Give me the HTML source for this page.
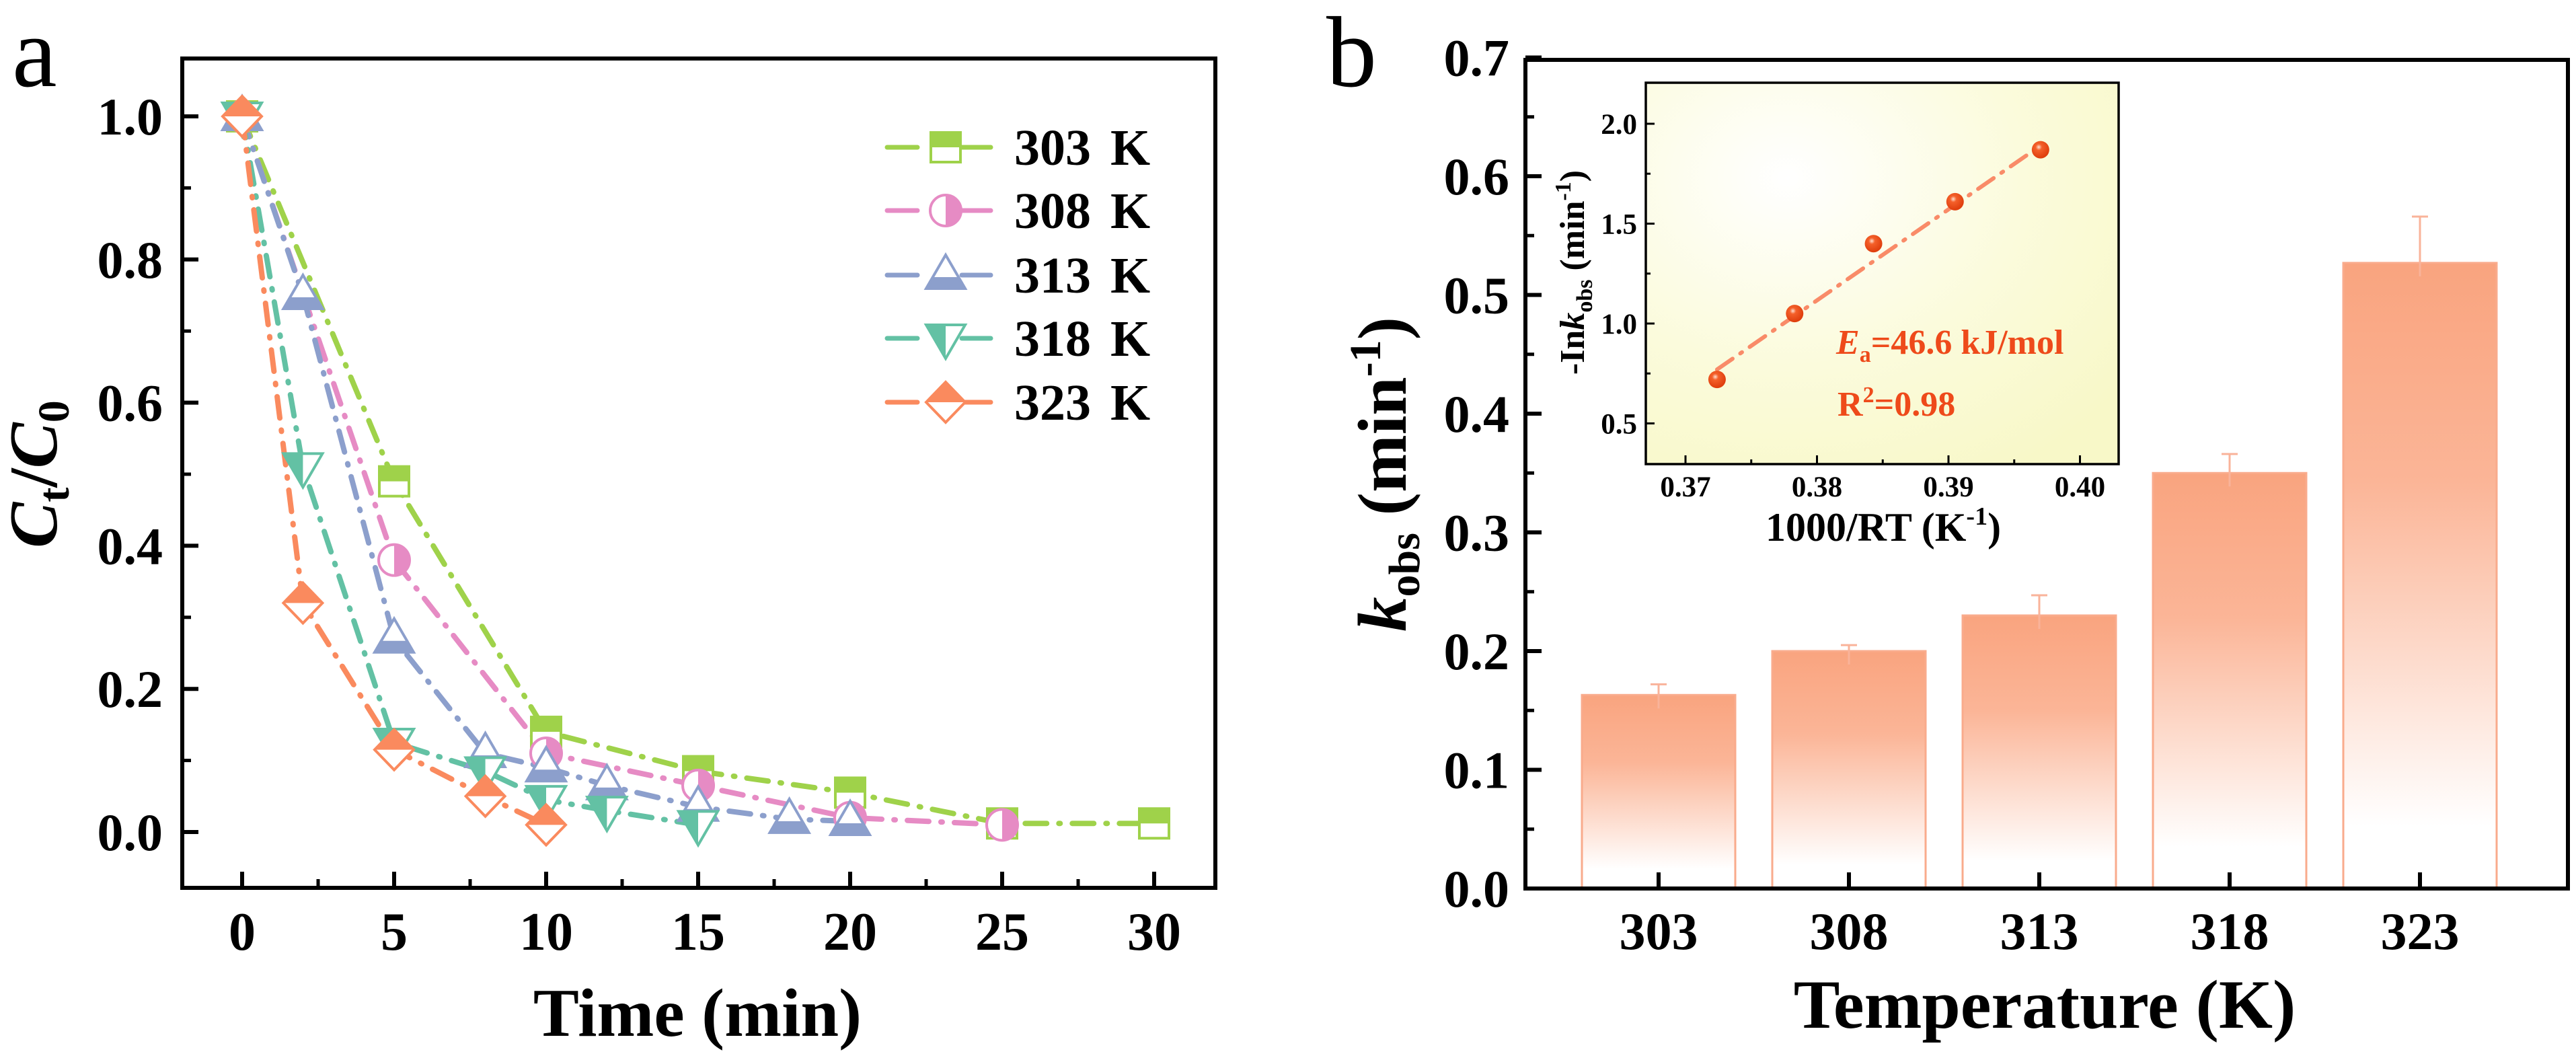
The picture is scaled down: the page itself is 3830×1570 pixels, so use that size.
<!DOCTYPE html>
<html><head><meta charset="utf-8"><style>
html,body{margin:0;padding:0;background:#fff;}
svg{display:block;font-family:"Liberation Serif",serif;font-weight:bold;}
</style></head><body>
<svg id="fig" xmlns="http://www.w3.org/2000/svg" width="3830" height="1570" viewBox="0 0 3830 1570">
<defs>
<linearGradient id="barGrad" x1="0" y1="0" x2="0" y2="1">
<stop offset="0" stop-color="#f9a47f"/><stop offset="0.35" stop-color="#fbb597"/><stop offset="0.9" stop-color="#ffffff"/><stop offset="1" stop-color="#ffffff"/>
</linearGradient>
<radialGradient id="insetBg" cx="0.3" cy="0.25" r="0.9">
<stop offset="0" stop-color="#ffffff"/><stop offset="0.55" stop-color="#fbfbdc"/><stop offset="1" stop-color="#f8f8c8"/>
</radialGradient>
<radialGradient id="ballGrad" cx="0.4" cy="0.35" r="0.6">
<stop offset="0" stop-color="#ffe0d0"/><stop offset="0.3" stop-color="#f4602a"/><stop offset="1" stop-color="#e0400f"/>
</radialGradient>
</defs>
<g id="panelA"></g>
<g id="panelB"></g>
</svg>
<script>
// ---------- Panel a data ----------
const seriesNames = ["303 K","308 K","313 K","318 K","323 K"];
const seriesColors = ["#9fd24a","#e68bc4","#8c9fcc","#63c1a4","#fa8a5e"];
const t303 = [0,5,10,15,20,25,30];
const c303 = [1.0,0.49,0.14,0.085,0.055,0.012,0.012];
const t308 = [0,5,10,15,20,25];
const c308 = [1.0,0.38,0.11,0.065,0.02,0.01];
const t313 = [0,2,5,8,10,12,15,18,20];
const c313 = [1.0,0.75,0.27,0.11,0.09,0.065,0.035,0.018,0.015];
const t318 = [0,2,5,8,10,12,15];
const c318 = [1.0,0.51,0.125,0.085,0.045,0.03,0.01];
const t323 = [0,2,5,8,10];
const c323 = [1.0,0.32,0.115,0.05,0.01];
const xTicksA = [0,5,10,15,20,25,30];
const yTicksA = [0.0,0.2,0.4,0.6,0.8,1.0];
// ---------- Panel b data ----------
const tempCats = ["303","308","313","318","323"];
const kobs = [0.163,0.200,0.230,0.350,0.527];
const kerr = [0.172,0.205,0.247,0.366,0.566];
const yTicksB = [0.0,0.1,0.2,0.3,0.4,0.5,0.6,0.7];
// ---------- Inset data ----------
const invRT = [0.3724,0.3783,0.3843,0.3905,0.3970];
const negLnK = [0.72,1.05,1.40,1.61,1.87];
const fitX = [0.3724,0.3970];
const fitY = [0.77,1.89];
const xTicksIn = [0.37,0.38,0.39,0.40];
const yTicksIn = [0.5,1.0,1.5,2.0];

const NS="http://www.w3.org/2000/svg";
function mk(parent,tag,attrs){const e=document.createElementNS(NS,tag);for(const k in attrs)e.setAttribute(k,attrs[k]);parent.appendChild(e);return e;}

// ===== Panel A =====
const A=document.getElementById('panelA');
const aL=271,aR=1807,aT=87,aB=1320;
const ax=v=>360+v*45.2;
const ay=v=>1237-v*1064;
let t=mk(A,'text',{x:18,y:128,'font-size':150,'font-weight':'normal'});t.textContent='a';

let fr=mk(A,'rect',{x:aL,y:aT,width:aR-aL,height:aB-aT,fill:'none',stroke:'#000','stroke-width':6});

yTicksA.forEach(v=>{const y=ay(v);
 const l=mk(A,'line',{x1:aL,x2:aL+24,y1:y,y2:y,stroke:'#000','stroke-width':6});
 
 if(v<1.0){const m=mk(A,'line',{x1:aL,x2:aL+13,y1:ay(v+0.1),y2:ay(v+0.1),stroke:'#000','stroke-width':5});
 }
 const tx=mk(A,'text',{x:242,y:y+27,'font-size':78,'text-anchor':'end'});tx.textContent=v.toFixed(1);
 
});
xTicksA.forEach(v=>{const x=ax(v);
 const l=mk(A,'line',{x1:x,x2:x,y1:aB,y2:aB-24,stroke:'#000','stroke-width':6});
 
 if(v<30){const m=mk(A,'line',{x1:ax(v+2.5),x2:ax(v+2.5),y1:aB,y2:aB-13,stroke:'#000','stroke-width':5});
 }
 const tx=mk(A,'text',{x:x,y:1412,'font-size':80,'text-anchor':'middle'});tx.textContent=v;
 
});
t=mk(A,'text',{x:1037,y:1540,'font-size':102,'text-anchor':'middle'});t.textContent='Time (min)';

t=mk(A,'text',{transform:'translate(84,705) rotate(-90)','font-size':102,'text-anchor':'middle'});
t.innerHTML='<tspan font-style="italic">C</tspan><tspan font-size="66" dy="18">t</tspan><tspan dy="-18">/</tspan><tspan font-style="italic">C</tspan><tspan font-size="66" dy="18">0</tspan>';


let clipId=0;
function marker(g,kind,cx,cy,col){
 let shape;
 if(kind==='sq') shape={tag:'rect',a:{x:cx-22,y:cy-22,width:44,height:44}};
 if(kind==='ci') shape={tag:'circle',a:{cx:cx,cy:cy,r:23}};
 if(kind==='tu') shape={tag:'polygon',a:{points:`${cx},${cy-30} ${cx+29},${cy+20} ${cx-29},${cy+20}`}};
 if(kind==='td') shape={tag:'polygon',a:{points:`${cx-29},${cy-20} ${cx+29},${cy-20} ${cx},${cy+30}`}};
 if(kind==='di') shape={tag:'polygon',a:{points:`${cx},${cy-30} ${cx+29},${cy} ${cx},${cy+30} ${cx-29},${cy}`}};
 const id='c'+(clipId++);
 const cp=mk(g,'clipPath',{id:id});
 let r;
 if(kind==='sq'||kind==='di'||kind==='tu') r= kind==='tu'?{x:cx-40,y:cy+3,width:80,height:40}:{x:cx-40,y:cy-40,width:80,height:40};
 if(kind==='ci') r={x:cx,y:cy-40,width:40,height:80};
 if(kind==='td') r={x:cx-40,y:cy-40,width:40,height:80};
 mk(cp,'rect',r);
 mk(g,shape.tag,Object.assign({},shape.a,{fill:'#fff',stroke:'none'}));
 mk(g,shape.tag,Object.assign({},shape.a,{fill:col,stroke:'none','clip-path':`url(#${id})`}));
 const o=mk(g,shape.tag,Object.assign({},shape.a,{fill:'none',stroke:col,'stroke-width':4,'stroke-linejoin':'miter'}));
 return o;
}
const kinds=['sq','ci','tu','td','di'];
const tS=[t303,t308,t313,t318,t323], cS=[c303,c308,c313,c318,c323];
const seriesSlugs=['303k','308k','313k','318k','323k'];
for(let s=0;s<5;s++){
 const pts=tS[s].map((tv,i)=>ax(tv)+','+ay(cS[s][i])).join(' ');
 const pl=mk(A,'polyline',{points:pts,fill:'none',stroke:seriesColors[s],'stroke-width':8,'stroke-dasharray':'32 18 2 18','stroke-linecap':'round'});
 
}
for(let s=0;s<5;s++){
 const g=mk(A,'g',{});
 
 tS[s].forEach((tv,i)=>{const o=marker(g,kinds[s],ax(tv),ay(cS[s][i]),seriesColors[s]);
  });
}
const legY=[219,313,409,503,598];
for(let s=0;s<5;s++){
 const g=mk(A,'g',{});
 
 mk(g,'line',{x1:1319,x2:1364,y1:legY[s],y2:legY[s],stroke:seriesColors[s],'stroke-width':7,'stroke-linecap':'round'});
 mk(g,'line',{x1:1430,x2:1473,y1:legY[s],y2:legY[s],stroke:seriesColors[s],'stroke-width':7,'stroke-linecap':'round'});
 marker(g,kinds[s],1406,legY[s],seriesColors[s]);
 const tx=mk(g,'text',{x:1508,y:legY[s]+26,'font-size':76,'word-spacing':'10'});tx.textContent=seriesNames[s];
}

// ===== Panel B =====
const B=document.getElementById('panelB');
const bL=2268,bR=3818,bT=89,bB=1321;
const by=v=>1321-v*1765;
const bx=i=>2466+i*283;
t=mk(B,'text',{x:1972,y:128,'font-size':150,'font-weight':'normal'});t.textContent='b';

kobs.forEach((v,i)=>{
 const g=mk(B,'g',{});
 
 const top=by(v);
 mk(g,'rect',{x:bx(i)-114,y:top,width:228,height:bB-top,fill:'url(#barGrad)'});
 mk(g,'polyline',{points:`${bx(i)-114},${bB} ${bx(i)-114},${top} ${bx(i)+114},${top} ${bx(i)+114},${bB}`,fill:'none',stroke:'#f9ab8c','stroke-width':3});
 const e=mk(B,'g',{});
 
 mk(e,'line',{x1:bx(i),x2:bx(i),y1:top+20,y2:by(kerr[i]),stroke:'#f9b39a','stroke-width':3});
 mk(e,'line',{x1:bx(i)-12,x2:bx(i)+12,y1:by(kerr[i]),y2:by(kerr[i]),stroke:'#f9b39a','stroke-width':3});
});
fr=mk(B,'rect',{x:bL,y:bT,width:bR-bL,height:bB-bT,fill:'none',stroke:'#000','stroke-width':6});

yTicksB.forEach(v=>{const y=by(v);
 const l=mk(B,'line',{x1:bL,x2:bL+24,y1:y,y2:y,stroke:'#000','stroke-width':6});
 
 if(v<0.7){const m=mk(B,'line',{x1:bL,x2:bL+13,y1:by(v+0.05),y2:by(v+0.05),stroke:'#000','stroke-width':5});
 }
 const tx=mk(B,'text',{x:2244,y:y+27,'font-size':78,'text-anchor':'end'});tx.textContent=v.toFixed(1);
 
});
tempCats.forEach((c,i)=>{
 const l=mk(B,'line',{x1:bx(i),x2:bx(i),y1:bB,y2:bB-24,stroke:'#000','stroke-width':6});
 
 const tx=mk(B,'text',{x:bx(i),y:1411,'font-size':78,'text-anchor':'middle'});tx.textContent=c;
 
});
t=mk(B,'text',{x:3040,y:1528,'font-size':103,'text-anchor':'middle'});t.textContent='Temperature (K)';

t=mk(B,'text',{transform:'translate(2090,705) rotate(-90)','font-size':103,'text-anchor':'middle'});
t.innerHTML='<tspan font-style="italic">k</tspan><tspan font-size="66" dy="20">obs</tspan><tspan dy="-20"> (min</tspan><tspan font-size="66" dy="-38">-1</tspan><tspan dy="38">)</tspan>';


// ===== Inset =====
const I=mk(B,'g',{});

const iL=2447,iR=3150,iT=123,iB=690;
const ix=v=>2506+(v-0.37)*19550;
const iy=v=>184+(2.0-v)*297;
const bg=mk(I,'rect',{x:iL,y:iT,width:iR-iL,height:iB-iT,fill:'url(#insetBg)'});

const fit=mk(I,'line',{x1:ix(fitX[0]),y1:iy(fitY[0]),x2:ix(fitX[1]),y2:iy(fitY[1]),stroke:'#f98b68','stroke-width':6,'stroke-dasharray':'28 14 3 14','stroke-linecap':'round'});

invRT.forEach((v,i)=>{
 const c=mk(I,'circle',{cx:ix(v),cy:iy(negLnK[i]),r:13,fill:'url(#ballGrad)'});
 
});
fr=mk(I,'rect',{x:iL,y:iT,width:iR-iL,height:iB-iT,fill:'none',stroke:'#000','stroke-width':3.5});

xTicksIn.forEach(v=>{const x=ix(v);
 const l=mk(I,'line',{x1:x,x2:x,y1:iB,y2:iB-13,stroke:'#000','stroke-width':3});
 
 if(v<0.40){const m=mk(I,'line',{x1:ix(v+0.005),x2:ix(v+0.005),y1:iB,y2:iB-7,stroke:'#000','stroke-width':3});
 }
 const tx=mk(I,'text',{x:x,y:738,'font-size':43,'text-anchor':'middle'});tx.textContent=v.toFixed(2);
 
});
yTicksIn.forEach(v=>{const y=iy(v);
 const l=mk(I,'line',{x1:iL,x2:iL+13,y1:y,y2:y,stroke:'#000','stroke-width':3});
 
 if(v<2.0){const m=mk(I,'line',{x1:iL,x2:iL+7,y1:iy(v+0.25),y2:iy(v+0.25),stroke:'#000','stroke-width':3});
 }
 const tx=mk(I,'text',{x:2434,y:y+15,'font-size':43,'text-anchor':'end'});tx.textContent=v.toFixed(1);
 
});
t=mk(I,'text',{x:2800,y:804,'font-size':60,'text-anchor':'middle'});
t.innerHTML='1000/RT (K<tspan font-size="38" dy="-24">-1</tspan><tspan dy="24">)</tspan>';

t=mk(I,'text',{transform:'translate(2355,405) rotate(-90)','font-size':52,'text-anchor':'middle'});
t.innerHTML='-In<tspan font-style="italic">k</tspan><tspan font-size="34" dy="12">obs</tspan><tspan dy="-12"> (min</tspan><tspan font-size="34" dy="-20">-1</tspan><tspan dy="20">)</tspan>';

t=mk(I,'text',{x:2730,y:526,'font-size':52,fill:'#ee4a1a'});
t.innerHTML='<tspan font-style="italic">E</tspan><tspan font-size="34" dy="12">a</tspan><tspan dy="-12">=46.6 kJ/mol</tspan>';

t=mk(I,'text',{x:2732,y:618,'font-size':52,fill:'#ee4a1a'});
t.innerHTML='R<tspan font-size="34" dy="-20">2</tspan><tspan dy="20">=0.98</tspan>';

</script>
</body></html>
